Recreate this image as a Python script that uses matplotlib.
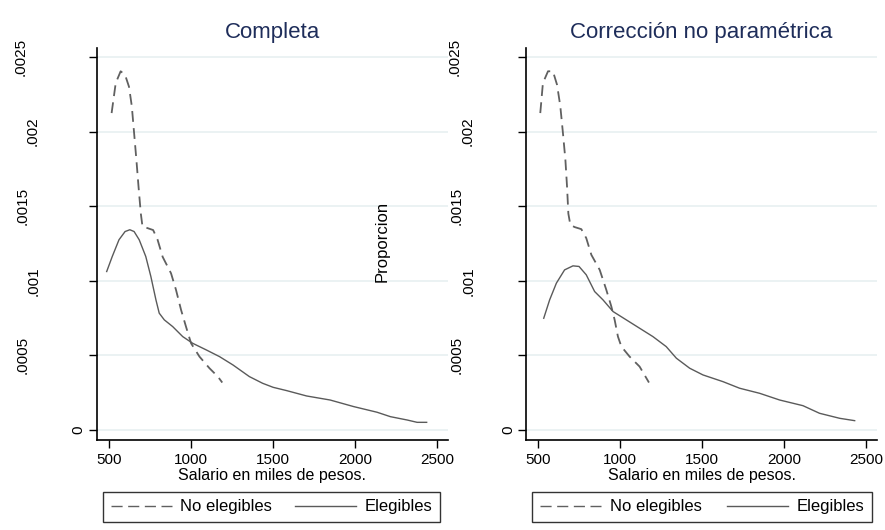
import matplotlib
matplotlib.use("Agg")
import matplotlib.pyplot as plt
import matplotlib.transforms as mtransforms
from matplotlib.lines import Line2D

plt.rcParams['font.family'] = ['Liberation Sans', 'DejaVu Sans']

# ---- data: Completa ----
comp_noeleg_x = [516, 541, 571, 598, 622, 639, 653, 667, 680, 694, 704, 724, 769, 796, 827, 878, 908, 939, 969, 1000, 1051, 1112, 1163, 1190]
comp_noeleg_y = [0.002124, 0.002325, 0.002404, 0.00238, 0.0023, 0.00217, 0.00199, 0.00181, 0.00163, 0.00145, 0.001364, 0.001357,
                 0.00134, 0.001275, 0.00116, 0.00105, 0.00094, 0.000805, 0.000693, 0.000581, 0.000492, 0.000414, 0.000358, 0.000318]
comp_eleg_x = [486, 520, 561, 598, 627, 653, 684, 724, 755, 786, 806, 837, 888, 949, 1010, 1092, 1173, 1255, 1355, 1436, 1500,
               1582, 1704, 1847, 1990, 2133, 2214, 2316, 2377, 2435]
comp_eleg_y = [0.001062, 0.001163, 0.001275, 0.00133, 0.001342, 0.00133, 0.001275, 0.001163, 0.001029, 0.000872, 0.000783,
               0.000738, 0.000693, 0.000626, 0.000581, 0.000537, 0.000492, 0.000436, 0.000358, 0.000313, 0.000286, 0.000264,
               0.000228, 0.000201, 0.000157, 0.000119, 0.0000894, 0.0000671, 0.0000514, 0.0000514]

# ---- data: Corrección no paramétrica ----
corr_noeleg_x = [514, 530, 561, 591, 616, 636, 652, 667, 677, 685, 697, 723, 764, 794, 825, 876, 916, 947, 967, 987, 1008, 1058, 1119, 1176]
corr_noeleg_y = [0.002124, 0.002325, 0.002404, 0.002404, 0.002314, 0.00217, 0.00199, 0.00181, 0.00163, 0.00145, 0.001375,
                 0.00136, 0.001346, 0.001286, 0.001174, 0.001073, 0.00094, 0.000827, 0.000738, 0.000626, 0.000559, 0.000492,
                 0.000425, 0.000318]
corr_eleg_x = [535, 571, 612, 662, 713, 750, 794, 845, 896, 957, 1038, 1119, 1200, 1281, 1343, 1424, 1505, 1627, 1728, 1850,
               1972, 2114, 2215, 2338, 2429]
corr_eleg_y = [0.000749, 0.000872, 0.000984, 0.001073, 0.0011, 0.001096, 0.00104, 0.000928, 0.000872, 0.000794, 0.000738,
               0.000682, 0.000626, 0.000559, 0.000481, 0.000414, 0.000369, 0.000324, 0.00028, 0.000246, 0.000201, 0.000163,
               0.000112, 0.0000783, 0.0000626]

titles = ["Completa", "Corrección no paramétrica"]
xlabel = "Salario en miles de pesos."
ylabel = "Proporcion"
legend_labels = ["No elegibles", "Elegibles"]
xticks = [500, 1000, 1500, 2000, 2500]
yticks = [0, 0.0005, 0.001, 0.0015, 0.002, 0.0025]
yticklabels = ["0", ".0005", ".001", ".0015", ".002", ".0025"]

# style: horizontal distance (px) of each rotated y tick label centre from the axis
ylab_offsets = [[19, 74, 63, 74, 64, 76], [18, 69, 57, 69, 58, 71]]

W, H = 885, 530
fig = plt.figure(figsize=(W / 100, H / 100), dpi=100)

line_color = "#5a5a5a"
title_color = "#1e2d5a"
grid_color = "#e8f0f1"
dash = (0, (6, 3.5))

panels = [
    (97, comp_noeleg_x, comp_noeleg_y, comp_eleg_x, comp_eleg_y, 103, 440),
    (526, corr_noeleg_x, corr_noeleg_y, corr_eleg_x, corr_eleg_y, 532, 872),
]

for i, (left_px, nx, ny, ex, ey, lg0, lg1) in enumerate(panels):
    ax = fig.add_axes([left_px / W, 1 - 440 / H, 351 / W, 392 / H])
    ax.plot(nx, ny, color="#606060", lw=1.3, linestyle=dash)
    ax.plot(ex, ey, color=line_color, lw=1.0, linestyle='-')
    ax.set_xlim(427, 2565)
    ax.set_ylim(-0.000067, 0.00256)
    ax.set_xticks(xticks)
    ax.set_xticklabels([str(t) for t in xticks])
    ax.set_yticks(yticks)
    ax.tick_params(axis='y', length=6, width=1, labelleft=False)
    ax.tick_params(axis='x', length=6, width=1, pad=3, labelsize=11)
    for t, lab, off in zip(yticks, yticklabels, ylab_offsets[i]):
        tr = ax.get_yaxis_transform() + mtransforms.ScaledTranslation(-off / 100, 0, fig.dpi_scale_trans)
        ax.text(0, t, lab, transform=tr, rotation=90, ha='center', va='center', fontsize=11)
    for s in ['top', 'right']:
        ax.spines[s].set_visible(False)
    for s in ['left', 'bottom']:
        ax.spines[s].set_linewidth(1.2)
    ax.grid(axis='y', color=grid_color, lw=1.2)
    ax.set_axisbelow(True)
    ax.set_xlabel(xlabel, fontsize=11.5, labelpad=1)
    ax.set_title(titles[i], fontsize=16, color=title_color, pad=7)
    handles = [Line2D([], [], color="#606060", lw=1.0, linestyle=(0, (8, 4))),
               Line2D([], [], color=line_color, lw=1.0)]
    fig.legend(handles, legend_labels, loc='upper left',
               bbox_to_anchor=(lg0 / W, -0.02, (lg1 - lg0) / W, 1 - 492 / H + 0.02),
               mode='expand', ncol=2, frameon=True, fancybox=False, edgecolor='black',
               fontsize=12, handlelength=3.7, handletextpad=0.5, borderaxespad=0, borderpad=0.45)

fig.text(382 / W, 1 - 241 / H, ylabel, rotation=90, ha='center', va='center', fontsize=12)

fig.savefig("out.png", dpi=100)
